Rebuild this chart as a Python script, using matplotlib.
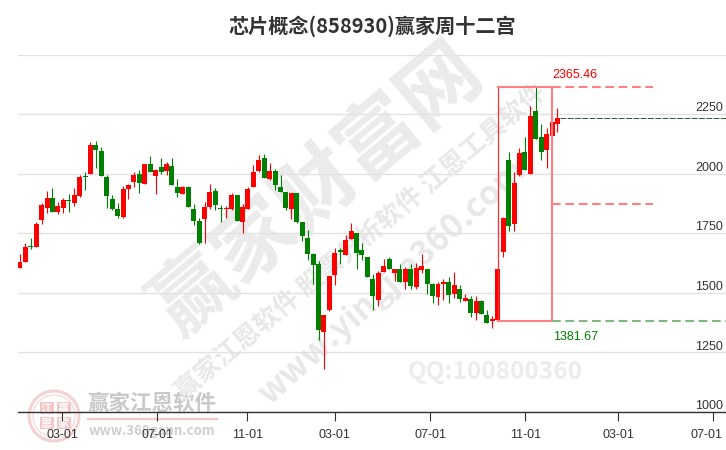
import matplotlib
matplotlib.use("Agg")
import matplotlib.pyplot as plt
from matplotlib.patches import Circle, Rectangle

CJK = ['Noto Sans CJK SC', 'DejaVu Sans']
plt.rcParams['font.family'] = ['Liberation Sans', 'DejaVu Sans']

title = "芯片概念(858930)赢家周十二宫"

# weekly candles
opens = [1606, 1628, 1697, 1692, 1805, 1856, 1899, 1839, 1856, 1891, 1877, 1906, 1989, 1999, 2120, 2097, 1984, 1895,
         1853, 1817, 1936, 1965, 2000, 1957, 2042, 1991, 2026, 2012, 2034, 1946, 1915, 1943, 1850, 1800, 1809, 1860,
         1926, 1855, 1852, 1850, 1909, 1797, 1852, 1944, 2010, 2065, 1976, 2010, 1943, 1922, 1852, 1918, 1798, 1732,
         1665, 1623, 1334, 1429, 1574, 1678, 1658, 1725, 1749, 1678, 1652, 1560, 1469, 1586, 1640, 1582, 1600, 1544,
         1600, 1523, 1595, 1602, 1539, 1481, 1536, 1547, 1494, 1518, 1464, 1476, 1414, 1467, 1408, 1380, 1387, 1670,
         2056, 1788, 1995, 2090, 1999, 2263, 2153, 2100, 2157, 2209]
closes = [1631, 1694, 1693, 1790, 1867, 1899, 1839, 1866, 1891, 1885, 1909, 1988, 1985, 2120, 2100, 1991, 1906, 1852,
          1822, 1934, 1954, 1996, 1961, 2042, 2007, 2017, 2007, 2042, 1953, 1919, 1943, 1860, 1801, 1707, 1859, 1922,
          1868, 1851, 1856, 1909, 1801, 1859, 1934, 2006, 2056, 1982, 2010, 1953, 1923, 1854, 1918, 1797, 1738, 1662,
          1616, 1346, 1408, 1572, 1669, 1671, 1720, 1758, 1666, 1658, 1565, 1485, 1585, 1614, 1599, 1600, 1544, 1598,
          1527, 1606, 1614, 1536, 1485, 1539, 1547, 1490, 1534, 1473, 1480, 1414, 1467, 1410, 1372, 1391, 1598, 1812,
          1780, 1960, 2086, 2016, 2242, 2146, 2091, 2166, 2216, 2233]
highs = [1665, 1707, 1732, 1796, 1878, 1926, 1941, 1883, 1899, 1913, 1939, 1993, 2006, 2131, 2135, 2110, 1993, 1909,
         1876, 1947, 1958, 2009, 2017, 2042, 2076, 2021, 2065, 2051, 2065, 1979, 1947, 1947, 1871, 1815, 1880, 1955,
         1939, 1870, 1863, 1918, 1909, 1871, 1943, 2035, 2077, 2082, 2044, 2019, 1993, 1922, 1918, 1918, 1798, 1762,
         1669, 1634, 1408, 1572, 1690, 1690, 1741, 1795, 1753, 1707, 1652, 1577, 1593, 1640, 1652, 1600, 1623, 1610,
         1619, 1627, 1661, 1602, 1543, 1547, 1556, 1568, 1589, 1534, 1497, 1488, 1488, 1471, 1429, 1404, 1598, 1817,
         2089, 2006, 2107, 2153, 2284, 2365.46, 2208, 2191, 2242, 2275]
lows = [1606, 1628, 1685, 1692, 1787, 1835, 1839, 1831, 1835, 1839, 1864, 1901, 1930, 1999, 2023, 1991, 1854, 1846,
        1814, 1814, 1894, 1944, 1919, 1957, 2007, 1915, 1999, 1995, 1953, 1902, 1915, 1860, 1784, 1703, 1711, 1852,
        1847, 1797, 1812, 1847, 1801, 1753, 1852, 1944, 2006, 1982, 1974, 1932, 1923, 1847, 1808, 1793, 1717, 1637,
        1536, 1304, 1182, 1425, 1532, 1623, 1658, 1725, 1599, 1637, 1565, 1426, 1443, 1586, 1599, 1551, 1544, 1515,
        1515, 1515, 1582, 1494, 1456, 1448, 1469, 1456, 1477, 1460, 1464, 1397, 1384, 1410, 1372, 1351, 1381.67, 1649,
        1759, 1759, 1990, 2016, 1999, 2146, 2056, 2023, 2157, 2176]

y_grid = [1000, 1250, 1500, 1750, 2000, 2250, 2500]
y_labels = [1000, 1250, 1500, 1750, 2000, 2250]
x_tick_pos = [7.81, 25.3, 41.9, 58.0, 75.6, 93.1, 110.2, 127.7]
x_tick_labels = ["03-01", "07-01", "11-01", "03-01", "07-01", "11-01", "03-01", "07-01"]

high_price = 2365.46
low_price = 1381.67
mid_price = 1873.6
last_price = 2232
box_start = 88
box_end = 98

W, H = 726, 450


def px(x, y):
    return x / W, 1 - y / H


fig = plt.figure(figsize=(7.26, 4.5), dpi=100)
ax = fig.add_axes([18 / W, 38 / H, 708 / W, 357.5 / H])
ax.patch.set_alpha(0)
ax.set_xlim(-0.35, 130.04)
ax.set_ylim(1000, 2500)

# watermarks sit behind the axes
wm = dict(family=CJK, weight='bold', ha='center', va='center', rotation_mode='anchor', zorder=-1)
fig.text(*px(318, 190), "赢家财富网", fontsize=58, color='#ebebeb', rotation=40, **wm)
fig.text(*px(361, 242), "赢家江恩软件 股票分析软件 江恩工具软件", fontsize=18.5, color='#e8e8e8', rotation=40, **wm)
fig.text(*px(392, 282), "www.yingjia360.com", fontsize=24, color='#e8e8e8', rotation=42, **wm)
fig.text(*px(495, 372), "QQ:100800360", fontsize=17.5, color='#ececec', **wm)

# logo, lower left
logo = fig.add_axes([0, 0, 1, 1], zorder=-1)
logo.set_xlim(0, W)
logo.set_ylim(H, 0)
logo.axis('off')
logo.add_patch(Circle((54, 416), 25, fc='none', ec='#f5d2d2', lw=2.2))
logo.add_patch(Circle((54, 416), 21, fc='none', ec='#f8e0e0', lw=1.2))
for lx, ly, ch in [(46.5, 408, "江"), (63.5, 408, "赢"), (46.5, 423, "恩"), (63.5, 423, "家")]:
    logo.add_patch(Rectangle((lx - 7, ly - 6), 14, 12, fc='#f4c6c6', ec='none'))
    logo.text(lx, ly, ch, family=CJK, weight='bold', fontsize=8, color='white', ha='center', va='center')
logo.text(152, 403, "赢家江恩软件", family=CJK, weight='bold', fontsize=15.5, color='#c9c9c9', ha='center', va='center')
logo.plot([88, 217], [419, 419], color='#f0c8c8', lw=1.6)
logo.text(152, 431, "www.360gann.com", family=CJK, weight='bold', fontsize=9.5, color='#cfcfcf', ha='center', va='center')

# grid and axes
ax.set_yticks(y_grid)
ax.grid(axis='y', color='#e2e2e2', lw=1.0, zorder=0)
ax.tick_params(axis='y', length=0, labelleft=False)
for s in ['top', 'left', 'right']:
    ax.spines[s].set_visible(False)
ax.spines['bottom'].set_color('#333333')
ax.spines['bottom'].set_linewidth(1.0)
ax.set_xticks(x_tick_pos, x_tick_labels[:-1] + [""])
ax.tick_params(axis='x', length=6.8, width=0.8, color='#333333', labelcolor='#333333', labelsize=9, pad=5.6)
ax.annotate(x_tick_labels[-1], xy=(x_tick_pos[-1], 0), xycoords=ax.get_xaxis_transform(), xytext=(6.5, -12.4),
            textcoords='offset points', ha='right', va='top', fontsize=9, color='#333333')

for v in y_labels:
    ax.annotate(str(v), xy=(1, v), xycoords=ax.get_yaxis_transform(), xytext=(-2.2, 2),
                textcoords='offset points', ha='right', va='baseline', fontsize=9, color='#333333')

# candles
for i, (o, c, h, l) in enumerate(zip(opens, closes, highs, lows)):
    color = '#ff0000' if c >= o else '#008000'
    ax.vlines(i, l, h, color=color, lw=0.8, zorder=3)
    ax.bar(i, abs(c - o), bottom=min(o, c), width=0.92, color=color, lw=0, zorder=4)

# twelve palaces box
pale_red = '#ff8080'
pale_green = '#80b880'
ax.plot([box_start, box_start], [low_price, high_price], color='#ff3030', lw=0.9, zorder=5)
ax.plot([box_end, box_end], [low_price, high_price], color=pale_red, lw=1.5, zorder=5)
ax.plot([box_start, box_end], [high_price, high_price], color=pale_red, lw=1.5, zorder=5)
ax.plot([box_start, box_end], [low_price, low_price], color=pale_red, lw=1.5, zorder=5)
ax.plot([box_end, 116.6], [high_price, high_price], color=pale_red, lw=1.5, dashes=(4.2, 2.2), zorder=5)
ax.plot([box_end, 116.6], [mid_price, mid_price], color=pale_red, lw=1.5, dashes=(4.2, 2.2), zorder=5)
ax.plot([box_end, 130.04], [low_price, low_price], color=pale_green, lw=1.5, dashes=(4.2, 2.2), zorder=5)
ax.plot([99.4, 130.04], [last_price, last_price], color='#2a5a2a', lw=0.7, dashes=(6, 1.5), zorder=5)

ax.annotate(f"{high_price:.2f}", xy=(box_end, high_price), xytext=(0.5, 6), textcoords='offset points',
            ha='left', va='baseline', fontsize=9, color='#ff0000')
ax.annotate(f"{low_price:.2f}", xy=(box_end, low_price), xytext=(0.5, -13.5), textcoords='offset points',
            ha='left', va='baseline', fontsize=9, color='#008000')

fig.text(*px(372, 26), title, family=CJK, weight='bold', fontsize=14.5, color='#333333', ha='center', va='center')

fig.savefig("out.png", dpi=100)
